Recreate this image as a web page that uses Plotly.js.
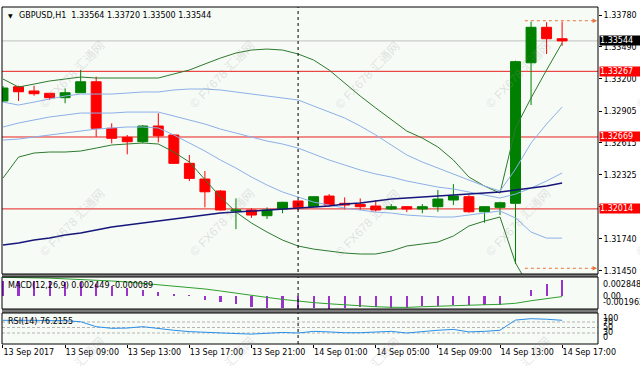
<!DOCTYPE html>
<html><head><meta charset="utf-8">
<script src="https://cdn.plot.ly/plotly-3.0.1.min.js"></script>
<style>html,body{margin:0;padding:0;background:#fff}#chart{width:640px;height:366px}</style>
</head><body><div id="chart"></div>
<script>
// ---- data ----
const times = ['13 Sep 05:00','13 Sep 06:00','13 Sep 07:00','13 Sep 08:00','13 Sep 09:00','13 Sep 10:00','13 Sep 11:00','13 Sep 12:00','13 Sep 13:00','13 Sep 14:00','13 Sep 15:00','13 Sep 16:00','13 Sep 17:00','13 Sep 18:00','13 Sep 19:00','13 Sep 20:00','13 Sep 21:00','13 Sep 22:00','13 Sep 23:00','14 Sep 00:00','14 Sep 01:00','14 Sep 02:00','14 Sep 03:00','14 Sep 04:00','14 Sep 05:00','14 Sep 06:00','14 Sep 07:00','14 Sep 08:00','14 Sep 09:00','14 Sep 10:00','14 Sep 11:00','14 Sep 12:00','14 Sep 13:00','14 Sep 14:00','14 Sep 15:00','14 Sep 16:00','14 Sep 17:00'];
const open  = [1.32997,1.33127,1.33088,1.33067,1.33027,1.33072,1.33172,1.32748,1.32666,1.32626,1.32769,1.32687,1.32429,1.32286,1.32177,1.31995,1.32004,1.31952,1.32013,1.32086,1.32034,1.32131,1.32065,1.32056,1.32040,1.32013,1.32034,1.32013,1.32034,1.32095,1.32125,1.31988,1.32028,1.32065,1.33345,1.33668,1.33564];
const high  = [1.33133,1.33136,1.33136,1.33070,1.33112,1.33279,1.33218,1.32793,1.32687,1.32778,1.32885,1.32693,1.32505,1.32359,1.32186,1.32110,1.32019,1.32028,1.32079,1.32095,1.32131,1.32149,1.32119,1.32110,1.32095,1.32058,1.32040,1.32058,1.32186,1.32240,1.32140,1.32040,1.32079,1.33364,1.33719,1.33715,1.33720];
const low   = [1.32987,1.32997,1.33045,1.33006,1.32976,1.33070,1.32671,1.32611,1.32511,1.32611,1.32620,1.32423,1.32268,1.32028,1.31999,1.31830,1.31933,1.31922,1.31974,1.32004,1.32028,1.32034,1.32010,1.32004,1.31988,1.32004,1.31985,1.31974,1.31988,1.32049,1.31979,1.31888,1.31958,1.31512,1.32960,1.33425,1.33500];
const close = [1.33115,1.33081,1.33063,1.33027,1.33072,1.33172,1.32748,1.32657,1.32626,1.32769,1.32680,1.32429,1.32292,1.32170,1.32004,1.32004,1.31958,1.32004,1.32074,1.32028,1.32125,1.32049,1.32049,1.32034,1.32004,1.32034,1.32013,1.32034,1.32104,1.32131,1.31988,1.32034,1.32070,1.33355,1.33668,1.33564,1.33544];

const greenUpper = [1.33197,1.33124,1.33151,1.33179,1.33197,1.33215,1.33206,1.33206,1.33206,1.33206,1.33206,1.33243,1.33279,1.33334,1.33388,1.33434,1.33461,1.33470,1.33461,1.33425,1.33370,1.33279,1.33161,1.33042,1.32933,1.32824,1.32723,1.32659,1.32578,1.32459,1.32304,1.32222,1.32158,1.32751,1.33024,1.33279,1.33525];
const greenLower = [1.32295,1.32486,1.32523,1.32532,1.32532,1.32541,1.32568,1.32596,1.32605,1.32614,1.32605,1.32532,1.32441,1.32277,1.32122,1.31985,1.31885,1.31803,1.31730,1.31676,1.31648,1.31630,1.31612,1.31603,1.31603,1.31630,1.31676,1.31694,1.31712,1.31767,1.31858,1.31903,1.31940,1.31521,1.31275,1.31184,1.31138];
const blueUpper  = [1.32987,1.32960,1.32987,1.33015,1.33042,1.33060,1.33060,1.33060,1.33069,1.33079,1.33079,1.33097,1.33106,1.33106,1.33097,1.33079,1.33060,1.33042,1.33024,1.33006,1.32951,1.32896,1.32842,1.32769,1.32687,1.32596,1.32505,1.32441,1.32386,1.32332,1.32277,1.32222,1.32177,1.32377,1.32614,1.32787,1.32942];
const blueMiddle = [1.32760,1.32796,1.32824,1.32851,1.32869,1.32887,1.32887,1.32887,1.32896,1.32896,1.32896,1.32860,1.32824,1.32787,1.32741,1.32705,1.32669,1.32632,1.32605,1.32568,1.32514,1.32459,1.32414,1.32368,1.32332,1.32304,1.32268,1.32240,1.32213,1.32195,1.32168,1.32140,1.32113,1.32149,1.32204,1.32268,1.32341];
const blueLower  = [1.32641,1.32650,1.32669,1.32687,1.32705,1.32723,1.32741,1.32751,1.32760,1.32760,1.32751,1.32687,1.32614,1.32541,1.32459,1.32386,1.32304,1.32231,1.32168,1.32122,1.32076,1.32049,1.32022,1.32004,1.31985,1.31976,1.31958,1.31949,1.31940,1.31940,1.31958,1.31976,1.31995,1.31931,1.31803,1.31748,1.31748];
const navyMA     = [1.31685,1.31703,1.31730,1.31748,1.31776,1.31794,1.31821,1.31849,1.31867,1.31885,1.31903,1.31922,1.31940,1.31958,1.31976,1.31985,1.31995,1.32004,1.32013,1.32022,1.32031,1.32040,1.32058,1.32067,1.32086,1.32104,1.32113,1.32122,1.32131,1.32140,1.32149,1.32158,1.32168,1.32186,1.32204,1.32222,1.32249];

const macdMain   = [0.00231,0.00231,0.00231,0.00221,0.00206,0.00206,0.00182,0.00150,0.00121,0.00088,0.00064,0.00026,0.00007,-0.00054,-0.00088,-0.00125,-0.00159,-0.00174,-0.00188,-0.001962,-0.00185,-0.00190,-0.00180,-0.00172,-0.00172,-0.00180,-0.00180,-0.00158,-0.00158,-0.00132,-0.00140,-0.00132,-0.00140,0.00005,0.00088,0.00182,0.002449];
const macdSignal = [0.00280,0.00280,0.00272,0.00268,0.00260,0.00252,0.00240,0.00225,0.00210,0.00190,0.00172,0.00152,0.00132,0.00105,0.00075,0.00040,0.00010,-0.00022,-0.00052,-0.00080,-0.00100,-0.00118,-0.00135,-0.00150,-0.00162,-0.00170,-0.00172,-0.00162,-0.00152,-0.00142,-0.00140,-0.00132,-0.00126,-0.00110,-0.00072,-0.00040,-0.000089];
const rsi        = [76,77,76,75,75,71,53,47,48,53,46,40,35,32,29,28,26,30,32,30,36,34,31,31,33,36,30,36,40,43,34,36,40,77,82,80,76.2155];

const xTickTimes = ['13 Sep 05:00','13 Sep 09:00','13 Sep 13:00','13 Sep 17:00','13 Sep 21:00','14 Sep 01:00','14 Sep 05:00','14 Sep 09:00','14 Sep 13:00','14 Sep 17:00'];
const xTickText  = ['13 Sep 2017','13 Sep 09:00','13 Sep 13:00','13 Sep 17:00','13 Sep 21:00','14 Sep 01:00','14 Sep 05:00','14 Sep 09:00','14 Sep 13:00','14 Sep 17:00'];
const priceTicks = [1.33780,1.33490,1.33200,1.32905,1.32615,1.32325,1.32035,1.31740,1.31450];
const priceTickText = ['1.33780','1.33490','1.33200','1.32905','1.32615','1.32325','','1.31740','1.31450'];
const redLevels  = [1.33267,1.32669,1.32014];
const bidPrice   = 1.33544;
const hiLoLevels = [1.33728,1.31473];
const rsiLevels  = [70,50,30];
const daySeparator = '14 Sep 00:00';
const titleText  = 'GBPUSD,H1  1.33564 1.33720 1.33500 1.33544';
const macdText   = 'MACD(12,26,9) 0.002449 -0.000089';
const rsiText    = 'RSI(14) 76.2155';
const macdScale  = ['0.002848','0.00','-0.001962'];
const rsiScale   = ['100','70','50','30','0'];
const watermark  = '© FX678 汇通网';

// ---- layout helpers ----
const FONT = 'DejaVu Sans, Noto Sans CJK SC, sans-serif';
const py = v => (344 - v) / 337;     // pixel row -> paper y
const px = v => (v - 2) / 596;       // pixel col -> paper x

const traces = [
  {x:times, y:greenUpper, type:'scatter', mode:'lines', line:{color:'#2e7a2e', width:1}, yaxis:'y', hoverinfo:'skip'},
  {x:times, y:greenLower, type:'scatter', mode:'lines', line:{color:'#2e7a2e', width:1}, yaxis:'y', hoverinfo:'skip'},
  {x:times, y:blueUpper, type:'scatter', mode:'lines', line:{color:'#8db0e8', width:1}, yaxis:'y', hoverinfo:'skip'},
  {x:times, y:blueMiddle, type:'scatter', mode:'lines', line:{color:'#8db0e8', width:1}, yaxis:'y', hoverinfo:'skip'},
  {x:times, y:blueLower, type:'scatter', mode:'lines', line:{color:'#8db0e8', width:1}, yaxis:'y', hoverinfo:'skip'},
  {x:times, y:navyMA, type:'scatter', mode:'lines', line:{color:'#16167a', width:1.5}, yaxis:'y', hoverinfo:'skip'},
  {x:times, open:open, high:high, low:low, close:close, type:'candlestick', yaxis:'y', whiskerwidth:0,
   increasing:{line:{color:'#008000', width:1}, fillcolor:'#008000'},
   decreasing:{line:{color:'#ff0000', width:1}, fillcolor:'#ff0000'}, hoverinfo:'skip'},
  {x:times, y:macdMain, type:'bar', yaxis:'y2', width:0.14, marker:{color:'#9933cc', line:{width:0}}, hoverinfo:'skip'},
  {x:times, y:macdSignal, type:'scatter', mode:'lines', line:{color:'#2ea02e', width:1}, yaxis:'y2', hoverinfo:'skip'},
  {x:times, y:rsi, type:'scatter', mode:'lines', line:{color:'#2a8ee8', width:1}, yaxis:'y3', hoverinfo:'skip'}
];

const shapes = [];
redLevels.forEach(v => shapes.push({type:'line', layer:'below', xref:'paper', x0:0, x1:1, yref:'y', y0:v, y1:v, line:{color:'#e82020', width:1}}));
shapes.push({type:'line', layer:'below', xref:'paper', x0:0, x1:1, yref:'y', y0:bidPrice, y1:bidPrice, line:{color:'#c0c0c0', width:1}});
hiLoLevels.forEach(v => shapes.push({type:'line', xref:'x', x0:33.6, x1:38.0, yref:'y', y0:v, y1:v, line:{color:'#e8743b', width:1, dash:'3px,3px'}}));
rsiLevels.forEach(v => shapes.push({type:'line', layer:'below', xref:'paper', x0:0, x1:1, yref:'y3', y0:v, y1:v, line:{color:'#b4b4b4', width:1, dash:'3px,2px'}}));
shapes.push({type:'line', xref:'x', x0:daySeparator, x1:daySeparator, yref:'paper', y0:0, y1:1, line:{color:'#000', width:1, dash:'3px,3px'}});
shapes.push({type:'rect', xref:'paper', x0:0, x1:1, yref:'paper', y0:py(277), y1:py(274), fillcolor:'#7a7a7a', line:{width:0}});
shapes.push({type:'rect', xref:'paper', x0:0, x1:1, yref:'paper', y0:py(313), y1:py(309), fillcolor:'#7a7a7a', line:{width:0}});
['y','y2','y3'].forEach(a => shapes.push({type:'rect', xref:'paper', x0:0, x1:1, yref:a+' domain', y0:0, y1:1, line:{color:'#000', width:1}}));

const annotations = [];
annotations.push({xref:'paper', yref:'paper', x:px(6), y:py(15), xanchor:'left', yanchor:'middle', text:'▼', showarrow:false, font:{size:6, family:FONT}});
annotations.push({xref:'paper', yref:'paper', x:px(17), y:py(15), xanchor:'left', yanchor:'middle', text:titleText, showarrow:false, font:{size:8, family:FONT}});
annotations.push({xref:'paper', yref:'paper', x:px(6), y:py(285), xanchor:'left', yanchor:'middle', text:macdText, showarrow:false, font:{size:8, family:FONT}});
annotations.push({xref:'paper', yref:'paper', x:px(6), y:py(321), xanchor:'left', yanchor:'middle', text:rsiText, showarrow:false, font:{size:8, family:FONT}});
annotations.push({xref:'paper', x:1, xshift:1, xanchor:'left', yref:'y', y:bidPrice, yanchor:'middle', text:bidPrice.toFixed(5), showarrow:false, bgcolor:'#000', font:{size:8, color:'#fff', family:FONT}, width:40, height:9, align:'left', borderpad:0});
redLevels.forEach(v => annotations.push({xref:'paper', x:1, xshift:1, xanchor:'left', yref:'y', y:v, yanchor:'middle', text:v.toFixed(5), showarrow:false, bgcolor:'#ff0000', font:{size:8, color:'#fff', family:FONT}, width:40, height:9, align:'left', borderpad:0}));
[284.7, 296.3, 302.7].forEach((r,i) => annotations.push({xref:'paper', x:1, xshift:3, xanchor:'left', yref:'paper', y:py(r), yanchor:'middle', text:macdScale[i], showarrow:false, font:{size:8, family:FONT}}));
[318.5, 322.5, 327, 332, 337.5].forEach((r,i) => annotations.push({xref:'paper', x:1, xshift:3, xanchor:'left', yref:'paper', y:py(r), yanchor:'middle', text:rsiScale[i], showarrow:false, font:{size:8, family:FONT}}));
hiLoLevels.forEach(v => annotations.push({xref:'x', x:38.25, yref:'y', y:v, ax:-6, ay:0, text:'', showarrow:true, arrowhead:2, arrowsize:0.9, arrowwidth:1, arrowcolor:'#e8743b'}));
[72,222,368,518,668].forEach(cx => [75,223,371].forEach(cy => annotations.push({xref:'paper', yref:'paper', x:px(cx), y:py(cy), xanchor:'center', yanchor:'middle', text:watermark, textangle:-46, showarrow:false, font:{size:12, color:'rgba(150,150,150,0.26)', family:'Liberation Sans, Noto Sans CJK SC, sans-serif'}})));

const layout = {
  width:640, height:366,
  margin:{l:2, r:42, t:7, b:22, pad:0},
  paper_bgcolor:'#ffffff', plot_bgcolor:'#f6fbf6',
  showlegend:false,
  font:{family:FONT, size:8, color:'#000'},
  boxgap:0.2, boxgroupgap:0.2, bargap:0,
  xaxis:{type:'category', categoryorder:'array', categoryarray:times, range:[-0.064, 38.31], anchor:'y3',
         showgrid:false, zeroline:false, showline:false, ticks:'outside', ticklen:3, tickcolor:'#000',
         tickvals:xTickTimes, ticktext:xTickText, ticklabelposition:'outside right', tickangle:0,
         tickfont:{size:8, family:FONT}, rangeslider:{visible:false}, fixedrange:true, automargin:false},
  yaxis:{domain:[py(274), 1], range:[1.31421, 1.33853], side:'right', anchor:'x', showgrid:false, zeroline:false,
         tickvals:priceTicks, ticktext:priceTickText, ticks:'outside', ticklen:3, tickcolor:'#000',
         tickfont:{size:8, family:FONT}, fixedrange:true, automargin:false},
  yaxis2:{domain:[py(309), py(277)], range:[-0.00196, 0.00285], side:'right', anchor:'x', showgrid:false, zeroline:false,
          showticklabels:false, ticks:'', fixedrange:true},
  yaxis3:{domain:[0, py(313)], range:[-10, 102.7], side:'right', anchor:'x', showgrid:false, zeroline:false,
          showticklabels:false, ticks:'', fixedrange:true},
  shapes:shapes, annotations:annotations
};

Plotly.newPlot('chart', traces, layout, {staticPlot:true, displayModeBar:false});
</script>
</body></html>
